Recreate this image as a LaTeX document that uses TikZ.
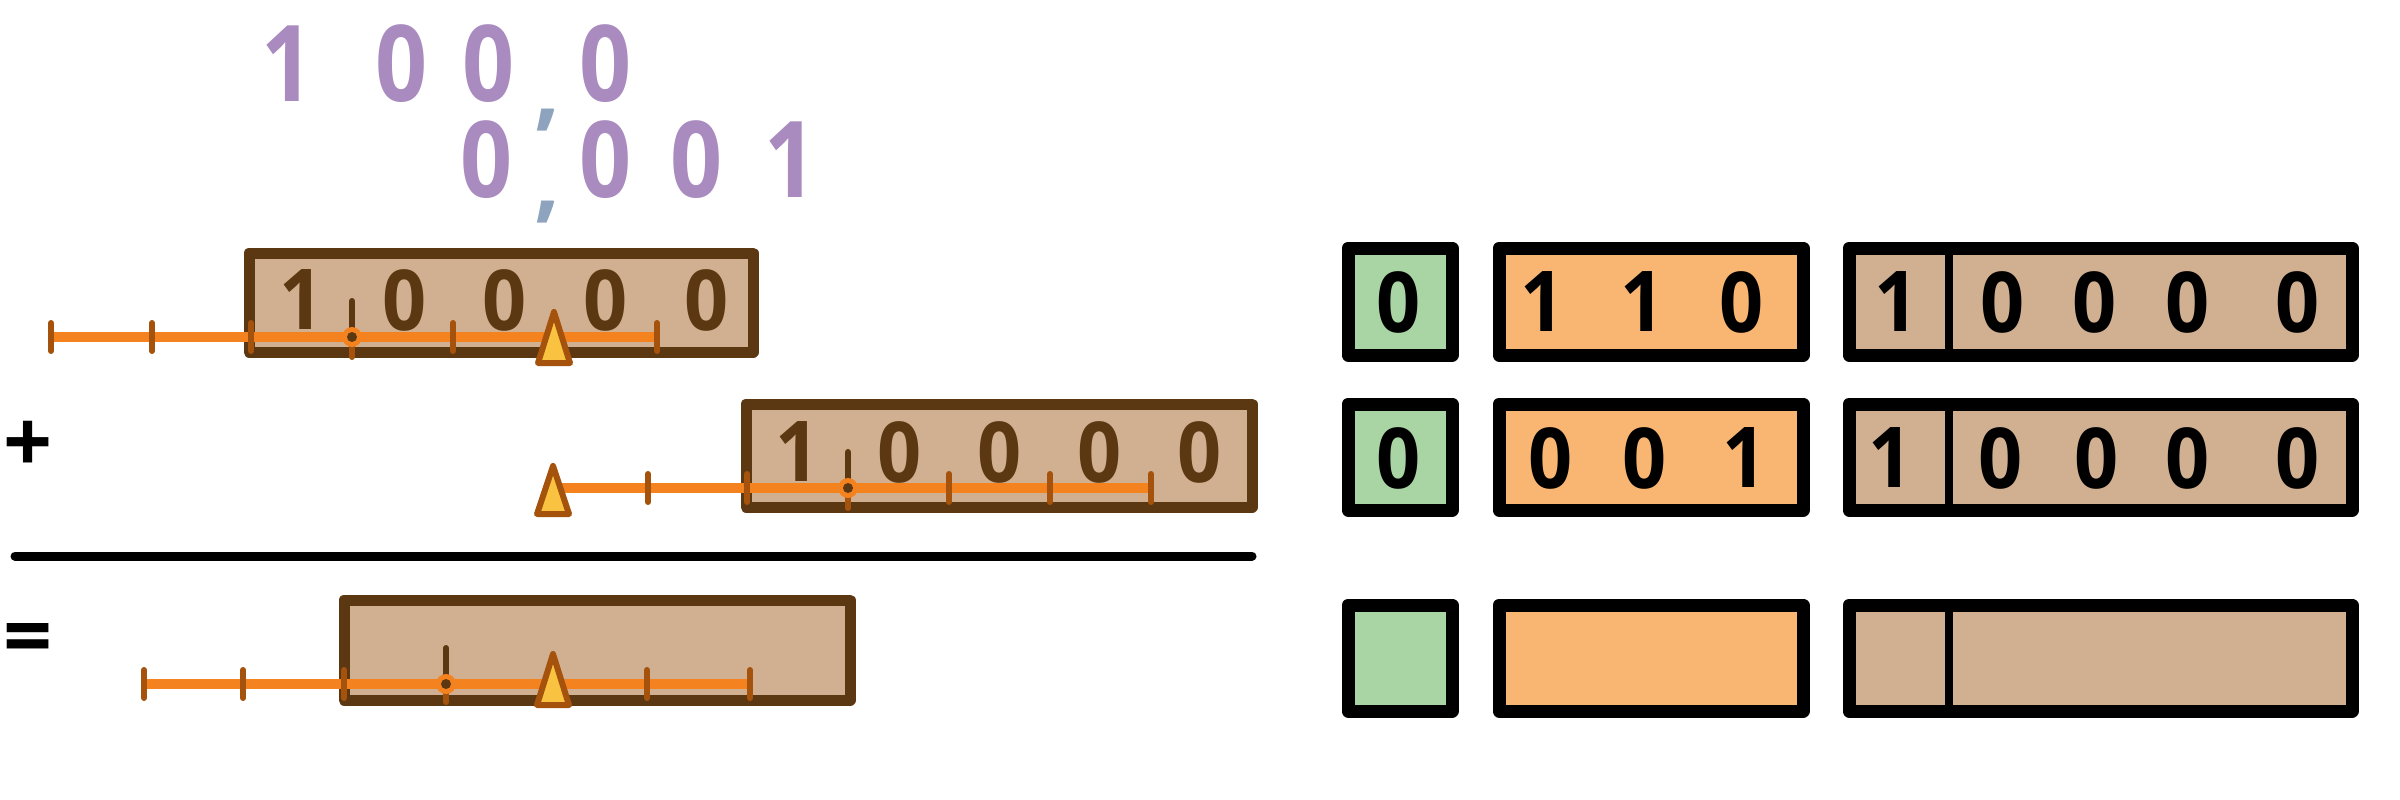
\documentclass[tikz,border=0pt]{standalone}
\usepackage{fontspec}
\setmainfont{Open Sans}
\usepackage{graphicx}
\definecolor{boxfill}{HTML}{D1AF91}
\definecolor{boxline}{HTML}{5C3812}
\definecolor{rulerc}{HTML}{F4821E}
\definecolor{tickc}{HTML}{A4520C}
\definecolor{trifill}{HTML}{F9C240}
\definecolor{purp}{HTML}{A98BBF}
\definecolor{commac}{HTML}{8DA3BE}
\definecolor{greenf}{HTML}{A9D5A5}
\definecolor{orangef}{HTML}{F8B672}
\newcommand\nx[1]{\scalebox{0.92}[1]{#1}}
\newcommand\bx[1]{\scalebox{0.86}[1]{#1}}
\tikzset{
  brownbox/.style={draw=boxline, fill=boxfill, line width=11pt, line join=round},
  rbox/.style={draw=black, line width=13pt, line join=round},
  divline/.style={draw=black, line width=8pt},
  ruler/.style={draw=rulerc, line width=10pt},
  tickmark/.style={draw=tickc, line width=6pt, line cap=round},
  postmark/.style={draw=boxline, line width=6pt, line cap=round},
  tri/.style={fill=trifill, draw=tickc, line width=6pt, line join=round},
  dig/.style={font=\fontsize{84}{84}\selectfont\bfseries, inner sep=0pt},
  bigdig/.style={font=\fontsize{106}{106}\selectfont\bfseries, inner sep=0pt, text=purp},
  commamark/.style={font=\fontsize{90}{90}\selectfont\bfseries, inner sep=0pt, text=commac},
  sign/.style={font=\fontsize{86}{86}\selectfont\bfseries, inner sep=0pt, text=black},
}
\begin{document}
\begin{tikzpicture}[x=1pt,y=-1pt]
\useasboundingbox (0,0) rectangle (2400,800);

% ---------- top numbers ----------
\node[bigdig] (t1) at (288,64) {\bx{1}};
\node[bigdig] (t2) at (402,64) {\bx{0}};
\node[bigdig] (t3) at (489,64) {\bx{0}};
\node[bigdig] (t4) at (606,64) {\bx{0}};
\node[commamark] (tc1) at (548,120) {,};
\node[bigdig] (u1) at (487,160) {\bx{0}};
\node[bigdig] (u2) at (606,160) {\bx{0}};
\node[bigdig] (u3) at (697,160) {\bx{0}};
\node[bigdig] (u4) at (791,160) {\bx{1}};
\node[commamark] (tc2) at (548,212) {,};

% ---------- row 1 ----------
\draw[brownbox] (249,253) rectangle (753,352);
\coordinate (a0) at (51,337);
\coordinate (a1) at (152,337);
\coordinate (a2) at (251,337);
\coordinate (a3) at (352,337);
\coordinate (a4) at (453,337);
\coordinate (a5) at (554,337);
\coordinate (a6) at (657,337);
\draw[ruler] (a0) -- (a6);
\foreach \p in {a0,a1,a2,a4,a6} \draw[tickmark] ([yshift=-14pt]\p) -- ([yshift=14pt]\p);
\draw[postmark] ([yshift=36pt]a3) -- (a3);
\draw[tickmark] (a3) -- ([yshift=-20pt]a3);
\fill[rulerc] (a3) circle (10pt);
\fill[boxline] (a3) circle (5pt);
\draw[tri] ([yshift=25pt]a5) -- ([xshift=-16pt,yshift=-26pt]a5) -- ([xshift=16pt,yshift=-26pt]a5) -- cycle;
\node[dig, text=boxline] (r1a) at (302,300) {\nx{1}};
\node[dig, text=boxline] (r1b) at (405,300) {\nx{0}};
\node[dig, text=boxline] (r1c) at (505,300) {\nx{0}};
\node[dig, text=boxline] (r1d) at (606,300) {\nx{0}};
\node[dig, text=boxline] (r1e) at (707,300) {\nx{0}};

% ---------- row 2 ----------
\node[sign] (plus) at (28,447) {+};
\draw[brownbox] (746,404) rectangle (1252,507);
\coordinate (b0) at (553,488);
\coordinate (b1) at (648,488);
\coordinate (b2) at (747,488);
\coordinate (b3) at (848,488);
\coordinate (b4) at (949,488);
\coordinate (b5) at (1050,488);
\coordinate (b6) at (1151,488);
\draw[ruler] (b0) -- (b6);
\foreach \p in {b1,b2,b4,b5,b6} \draw[tickmark] ([yshift=-14pt]\p) -- ([yshift=14pt]\p);
\draw[postmark] ([yshift=36pt]b3) -- (b3);
\draw[tickmark] (b3) -- ([yshift=-20pt]b3);
\fill[rulerc] (b3) circle (10pt);
\fill[boxline] (b3) circle (5pt);
\draw[tri] ([yshift=22pt]b0) -- ([xshift=-16pt,yshift=-26pt]b0) -- ([xshift=16pt,yshift=-26pt]b0) -- cycle;
\node[dig, text=boxline] (r2a) at (798,452) {\nx{1}};
\node[dig, text=boxline] (r2b) at (900,452) {\nx{0}};
\node[dig, text=boxline] (r2c) at (1000,452) {\nx{0}};
\node[dig, text=boxline] (r2d) at (1100,452) {\nx{0}};
\node[dig, text=boxline] (r2e) at (1200,452) {\nx{0}};

% ---------- rule ----------
\coordinate (hl) at (15,556);
\coordinate (hr) at (1252,556);
\draw[black, line width=9pt, line cap=round] (hl) -- (hr);

% ---------- row 3 ----------
\node[sign] (eq) at (28,645) {=};
\draw[brownbox] (344,600) rectangle (850,700);
\coordinate (c0) at (144,684);
\coordinate (c1) at (243,684);
\coordinate (c2) at (344,684);
\coordinate (c3) at (446,684);
\coordinate (c4) at (553,684);
\coordinate (c5) at (647,684);
\coordinate (c6) at (750,684);
\draw[ruler] (c0) -- (c6);
\foreach \p in {c0,c1,c2,c5,c6} \draw[tickmark] ([yshift=-14pt]\p) -- ([yshift=14pt]\p);
\draw[postmark] ([yshift=36pt]c3) -- (c3);
\draw[tickmark] (c3) -- ([yshift=-18pt]c3);
\fill[rulerc] (c3) circle (10pt);
\fill[boxline] (c3) circle (5pt);
\draw[tri] ([yshift=30pt]c4) -- ([xshift=-16pt,yshift=-21pt]c4) -- ([xshift=16pt,yshift=-21pt]c4) -- cycle;

% ---------- right side ----------
\foreach \yt/\yb/\n in {248/355/A, 404/510/B, 605/711/C} {
  \draw[rbox, fill=greenf] (1348,\yt) rectangle (1452,\yb);
  \draw[rbox, fill=orangef] (1499,\yt) rectangle (1803,\yb);
  \draw[rbox, fill=boxfill] (1849,\yt) rectangle (2352,\yb);
  \draw[divline] (1949,\yt) -- (1949,\yb);
}
\node[dig] (ga) at (1399,302) {\nx{0}};
\node[dig] (oa1) at (1543,302) {\nx{1}};
\node[dig] (oa2) at (1643,302) {\nx{1}};
\node[dig] (oa3) at (1742,302) {\nx{0}};
\node[dig] (ba0) at (1897,302) {\nx{1}};
\node[dig] (ba1) at (2003,302) {\nx{0}};
\node[dig] (ba2) at (2095,302) {\nx{0}};
\node[dig] (ba3) at (2188,302) {\nx{0}};
\node[dig] (ba4) at (2298,302) {\nx{0}};

\node[dig] (gb) at (1399,458) {\nx{0}};
\node[dig] (ob1) at (1551,458) {\nx{0}};
\node[dig] (ob2) at (1645,458) {\nx{0}};
\node[dig] (ob3) at (1745,458) {\nx{1}};
\node[dig] (bb0) at (1891,458) {\nx{1}};
\node[dig] (bb1) at (2001,458) {\nx{0}};
\node[dig] (bb2) at (2097,458) {\nx{0}};
\node[dig] (bb3) at (2188,458) {\nx{0}};
\node[dig] (bb4) at (2298,458) {\nx{0}};
\end{tikzpicture}
\end{document}
